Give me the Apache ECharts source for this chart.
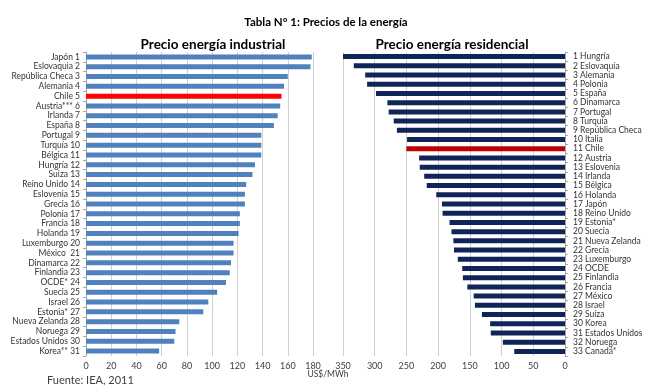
<!DOCTYPE html>
<html><head><meta charset="utf-8">
<script src="https://cdn.jsdelivr.net/npm/echarts@6/dist/echarts.min.js"></script>
<style>html,body{margin:0;padding:0;background:#fff}#c{width:660px;height:392px}</style>
</head><body><div id="c"></div>
<script>
const indCategories = ["Japón 1","Eslovaquia 2","República Checa 3","Alemania 4","Chile 5","Austria*** 6","Irlanda 7","España 8","Portugal 9","Turquía 10","Bélgica 11","Hungría 12","Suiza 13","Reino Unido 14","Eslovenia 15","Grecia 16","Polonia 17","Francia 18","Holanda 19","Luxemburgo 20","México  21","Dinamarca 22","Finlandia 23","OCDE* 24","Suecia 25","Israel 26","Estonia* 27","Nueva Zelanda 28","Noruega 29","Estados Unidos 30","Korea** 31"];
const indValues = [179,178,160,157,155,154,152,149,139,139,139,134,132,127,126,126,122,122,121,117,117,115,114,111,104,97,93,74,71,70,58];
const resCategories = ["1 Hungría","2 Eslovaquia","3 Alemania","4 Polonia","5 España","6 Dinamarca","7 Portugal","8 Turquía","9 República Checa","10 Italia","11 Chile","12 Austria","13 Eslovenia","14 Irlanda","15 Bélgica","16 Holanda","17 Japón","18 Reino Unido","19 Estonia*","20 Suecia","21 Nueva Zelanda","22 Grecia","23 Luxemburgo","24 OCDE","25 Finlandia","26 Francia","27 México","28 Israel","29 Suiza","30 Korea","31 Estados Unidos","32 Noruega","33 Canadá*"];
const resValues = [358,333,315,312,298,280,278,270,265,249,250,230,229,222,218,203,194,193,182,179,176,175,169,162,161,154,144,142,131,118,117,98,80];
const indTicks = [0,20,40,60,80,100,120,140,160,180];
const resTicks = [0,50,100,150,200,250,300,350];
const highlight = "Chile";

const FONT = "Lato, 'Open Sans', sans-serif";
const chart = echarts.init(document.getElementById('c'), null, {renderer:'canvas'});

const indData = indValues.map((v,i)=>{
  const hi = indCategories[i].indexOf(highlight)===0;
  return {value:v, itemStyle:{color: hi ? '#ff0000' : '#4f81bd'}};
});
const resData = resValues.map((v,i)=>{
  const hi = resCategories[i].indexOf(highlight)>=0;
  return {value:v, itemStyle:{color: hi ? '#c00000' : '#0f2557'}};
});

const gridLine = {show:true, lineStyle:{color:'#d0d0d0', width:1}};
const tickLabel = {fontFamily:FONT, fontSize:9, color:'#404040', margin:6};
const catLabel = {fontFamily:FONT, fontSize:8.5, color:'#333'};

chart.setOption({
  animation:false,
  backgroundColor:'#fff',
  graphic:[
    {type:'text', x:326, y:22, style:{text:'Tabla N° 1: Precios de la energía', fontFamily:FONT, fontSize:11.5, fontWeight:'bold', fill:'#000', align:'center', verticalAlign:'middle'}},
    {type:'text', x:213, y:45, z:10, style:{text:'Precio energía industrial', fontFamily:FONT, fontSize:13.5, fontWeight:'bold', fill:'#000', align:'center', verticalAlign:'middle'}},
    {type:'text', x:452, y:45, z:10, style:{text:'Precio energía residencial', fontFamily:FONT, fontSize:13.5, fontWeight:'bold', fill:'#000', align:'center', verticalAlign:'middle'}},
    {type:'text', x:328, y:374, style:{text:'US$/MWh', fontFamily:FONT, fontSize:8.5, fill:'#404040', align:'center', verticalAlign:'middle'}},
    {type:'text', x:47, y:380, style:{text:'Fuente: IEA, 2011', fontFamily:FONT, fontSize:11, fill:'#404040', align:'left', verticalAlign:'middle'}}
  ],
  grid:[
    {left:86, top:52, width:227, height:304},
    {left:343, top:52, width:222, height:304}
  ],
  xAxis:[
    {gridIndex:0, type:'value', min:indTicks[0], max:indTicks[indTicks.length-1], interval:20,
     axisLine:{show:false}, axisTick:{show:false}, splitLine:gridLine, axisLabel:tickLabel},
    {gridIndex:1, type:'value', inverse:true, min:resTicks[0], max:resTicks[resTicks.length-1], interval:50,
     axisLine:{show:false}, axisTick:{show:false}, splitLine:gridLine, axisLabel:tickLabel}
  ],
  yAxis:[
    {gridIndex:0, type:'category', data:indCategories, inverse:true, position:'left',
     axisLine:{show:true, lineStyle:{color:'#a6a6a6'}}, axisTick:{show:true, length:3, lineStyle:{color:'#a6a6a6'}},
     axisLabel:Object.assign({margin:6, interval:0}, catLabel)},
    {gridIndex:1, type:'category', data:resCategories, inverse:true, position:'right',
     axisLine:{show:true, lineStyle:{color:'#a6a6a6'}}, axisTick:{show:true, length:3, lineStyle:{color:'#a6a6a6'}},
     axisLabel:Object.assign({margin:8, interval:0}, catLabel)}
  ],
  series:[
    {type:'bar', xAxisIndex:0, yAxisIndex:0, data:indData, barWidth:5},
    {type:'bar', xAxisIndex:1, yAxisIndex:1, data:resData, barWidth:5}
  ]
});
</script></body></html>
